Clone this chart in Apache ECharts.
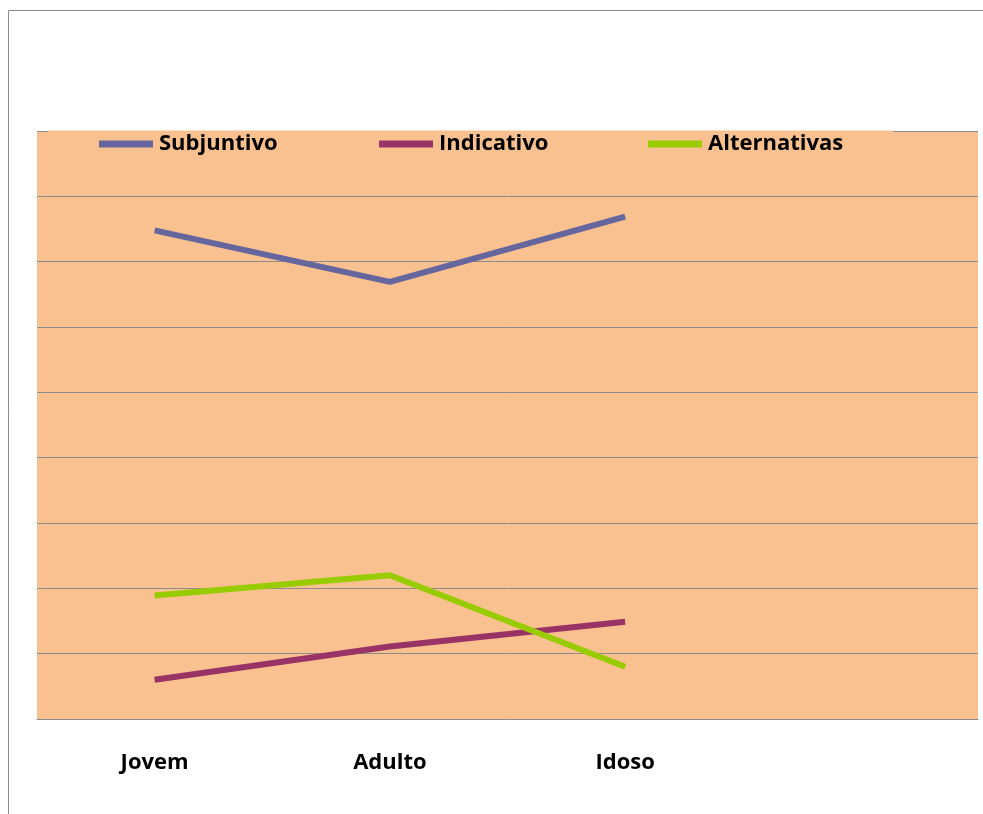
<!DOCTYPE html>
<html>
<head>
<meta charset="utf-8">
<script src="https://cdn.jsdelivr.net/npm/echarts@6/dist/echarts.min.js"></script>
<style>
  html, body { margin: 0; padding: 0; background: #fff; }
  #chart { width: 983px; height: 814px; }
</style>
</head>
<body>
<div id="chart"></div>
<script>
// faixas etárias (a 4a categoria fica vazia, como no original)
var categorias = ['Jovem', 'Adulto', 'Idoso', ''];
var subjuntivo = [74.8, 66.9, 76.9];
var indicativo = [6.0, 11.1, 14.9];
var alternativas = [18.9, 22.0, 8.0];

var nomes = ['Subjuntivo', 'Indicativo', 'Alternativas'];
var cores = ['#66669e', '#993366', '#99cc00'];
var legendaX = [99, 379, 648];

var chart = echarts.init(document.getElementById('chart'));

var fonte = { fontFamily: 'Open Sans', fontWeight: 'bold', fontSize: 22, color: '#000' };

var legends = nomes.map(function (n, i) {
  return {
    data: [n],
    left: legendaX[i],
    top: 133,
    icon: 'rect',
    itemWidth: 54,
    itemHeight: 7,
    itemGap: 0,
    padding: 0,
    z: 30,
    textStyle: Object.assign({ padding: [0, 0, 0, 1] }, fonte),
    selectedMode: false
  };
});

chart.setOption({
  animation: false,
  backgroundColor: '#fff',
  graphic: [
    {
      type: 'rect',
      shape: { x: 8.5, y: 10.5, width: 1000, height: 1000 },
      style: { fill: 'none', stroke: '#8c8c8c', lineWidth: 1 },
      z: 0
    },
    {
      // fundo do quadro da legenda, cobre a linha de grade do topo
      type: 'rect',
      shape: { x: 48, y: 130.5, width: 845, height: 4 },
      style: { fill: '#f9c090' },
      z: 5
    }
  ],
  legend: legends,
  grid: {
    left: 37,
    right: 5,
    top: 131,
    bottom: 95,
    show: true,
    backgroundColor: '#f9c090',
    borderWidth: 0
  },
  xAxis: {
    type: 'category',
    data: categorias,
    boundaryGap: true,
    axisLine: { show: true, lineStyle: { color: '#8c8c8c', width: 1 } },
    axisTick: { show: false },
    axisLabel: Object.assign({ margin: 33, interval: 0 }, fonte)
  },
  yAxis: {
    type: 'value',
    min: 0,
    max: 90,
    interval: 10,
    axisLine: { show: false },
    axisTick: { show: false },
    axisLabel: { show: false },
    splitLine: { show: true, lineStyle: { color: '#8c8c8c', width: 1 } }
  },
  series: [
    { name: nomes[0], type: 'line', data: subjuntivo, symbol: 'none', lineStyle: { width: 6, color: cores[0] }, itemStyle: { color: cores[0] }, z: 20 },
    { name: nomes[1], type: 'line', data: indicativo, symbol: 'none', lineStyle: { width: 6, color: cores[1] }, itemStyle: { color: cores[1] }, z: 20 },
    { name: nomes[2], type: 'line', data: alternativas, symbol: 'none', lineStyle: { width: 6, color: cores[2] }, itemStyle: { color: cores[2] }, z: 20 }
  ]
});
</script>
</body>
</html>
